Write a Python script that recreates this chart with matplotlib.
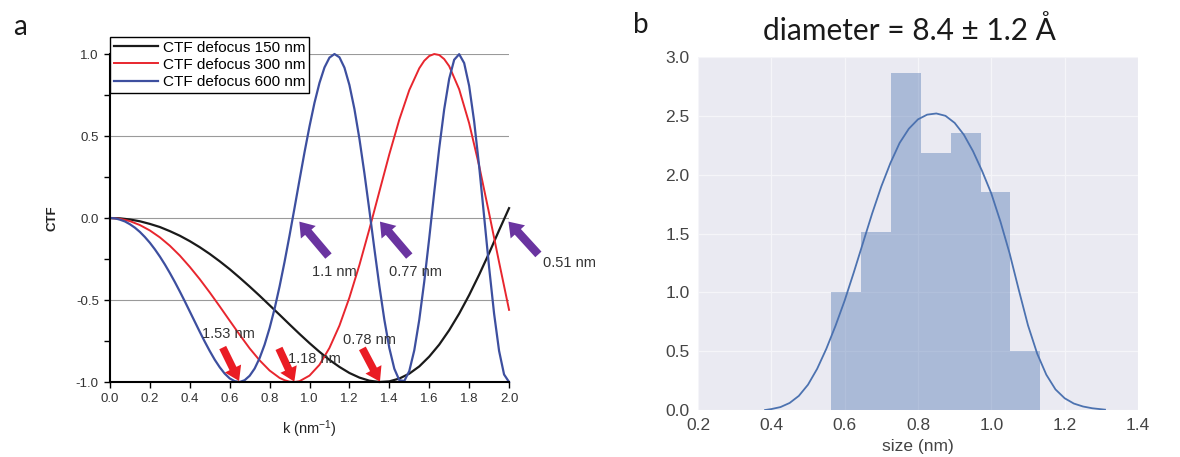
import numpy as np
import matplotlib
matplotlib.use('Agg')
import matplotlib.pyplot as plt

plt.rcParams['font.family'] = ['Liberation Sans', 'DejaVu Sans']
plt.rcParams['mathtext.default'] = 'regular'
plt.rcParams['axes.unicode_minus'] = False

# ---- panel a: CTF curves ----
k_150 = [0.00, 0.05, 0.10, 0.15, 0.20, 0.25, 0.30, 0.35, 0.40, 0.45,
         0.50, 0.55, 0.60, 0.65, 0.70, 0.75, 0.80, 0.85, 0.90, 0.95,
         1.00, 1.05, 1.10, 1.15, 1.20, 1.25, 1.30, 1.35, 1.40, 1.45,
         1.50, 1.55, 1.60, 1.65, 1.70, 1.75, 1.80, 1.85, 1.90, 1.95, 2.00]
ctf_150 = [0.000, -0.002, -0.009, -0.020, -0.036, -0.055, -0.080, -0.108, -0.141, -0.178,
           -0.219, -0.264, -0.312, -0.364, -0.418, -0.474, -0.532, -0.590, -0.649, -0.707,
           -0.763, -0.816, -0.865, -0.908, -0.945, -0.973, -0.992, -1.000, -0.996, -0.979,
           -0.949, -0.905, -0.845, -0.772, -0.684, -0.583, -0.470, -0.346, -0.214, -0.075, 0.060]

k_300 = [0.00, 0.05, 0.10, 0.15, 0.20, 0.25, 0.30, 0.35, 0.40, 0.45,
         0.50, 0.55, 0.60, 0.65, 0.70, 0.75, 0.80, 0.85, 0.875, 0.90, 0.925, 0.95,
         1.00, 1.05, 1.10, 1.15, 1.20, 1.25, 1.30, 1.35, 1.40, 1.45,
         1.50, 1.55, 1.575, 1.60, 1.625, 1.65, 1.675, 1.70, 1.75, 1.80, 1.85, 1.90, 1.95, 2.00]
ctf_300 = [0.000, -0.005, -0.019, -0.043, -0.076, -0.118, -0.169, -0.229, -0.298, -0.373,
           -0.454, -0.539, -0.626, -0.712, -0.795, -0.868, -0.930, -0.975, -0.989, -0.998, -1.000, -0.995,
           -0.961, -0.895, -0.792, -0.656, -0.485, -0.287, -0.068, 0.161, 0.389, 0.600,
           0.780, 0.913, 0.959, 0.988, 1.000, 0.994, 0.969, 0.926, 0.785, 0.578, 0.319, 0.029, -0.269, -0.560]

k_600 = [0.000, 0.025, 0.050, 0.075, 0.100, 0.125, 0.150, 0.175, 0.200, 0.225,
         0.250, 0.275, 0.300, 0.325, 0.350, 0.375, 0.400, 0.425, 0.450, 0.475,
         0.500, 0.525, 0.550, 0.575, 0.600, 0.625, 0.650, 0.675, 0.700, 0.725,
         0.750, 0.775, 0.800, 0.825, 0.850, 0.875, 0.900, 0.925, 0.950, 0.975,
         1.000, 1.025, 1.050, 1.075, 1.100, 1.125, 1.150, 1.175, 1.200, 1.225,
         1.250, 1.275, 1.300, 1.325, 1.350, 1.375, 1.400, 1.425, 1.450, 1.475,
         1.500, 1.525, 1.550, 1.575, 1.600, 1.625, 1.650, 1.675, 1.700, 1.725,
         1.750, 1.775, 1.800, 1.825, 1.850, 1.875, 1.900, 1.925, 1.950, 1.975, 2.000]
ctf_600 = [0.000, -0.002, -0.010, -0.021, -0.038, -0.059, -0.085, -0.116, -0.151, -0.191,
           -0.235, -0.283, -0.335, -0.390, -0.448, -0.508, -0.570, -0.632, -0.694, -0.754,
           -0.811, -0.864, -0.910, -0.949, -0.978, -0.995, -1.000, -0.989, -0.962, -0.918,
           -0.854, -0.772, -0.671, -0.553, -0.417, -0.267, -0.106, 0.062, 0.233, 0.401,
           0.559, 0.703, 0.824, 0.918, 0.978, 1.000, 0.980, 0.917, 0.811, 0.665,
           0.484, 0.274, 0.047, -0.187, -0.414, -0.620, -0.793, -0.919, -0.989, -0.994,
           -0.933, -0.807, -0.621, -0.388, -0.123, 0.156, 0.425, 0.663, 0.849, 0.965,
           0.999, 0.945, 0.806, 0.590, 0.317, 0.010, -0.300, -0.583, -0.810, -0.954, -1.000]

series_labels = ['CTF defocus 150 nm', 'CTF defocus 300 nm', 'CTF defocus 600 nm']

# arrows: (tail k, tail ctf, head k, head ctf)
red_arrows = [(0.565, -0.79, 0.647, -0.994),
              (0.847, -0.795, 0.924, -0.998),
              (1.265, -0.795, 1.353, -0.998)]
red_texts = [('1.53 nm', 0.461, -0.707), ('1.18 nm', 0.892, -0.86), ('0.78 nm', 1.168, -0.744)]

purple_arrows = [(1.095, -0.232, 0.949, -0.022),
                 (1.50, -0.232, 1.353, -0.022),
                 (2.147, -0.222, 1.997, -0.022)]
purple_texts = [('1.1 nm', 1.013, -0.329), ('0.77 nm', 1.398, -0.329), ('0.51 nm', 2.17, -0.274)]

# ---- panel b: size histogram (density) and smooth estimate ----
bin_edges = [0.563, 0.6445, 0.726, 0.8075, 0.889, 0.9705, 1.052, 1.1335]
bin_height = [1.0, 1.51, 2.86, 2.18, 2.35, 1.85, 0.5]

kde_x = [0.383, 0.400, 0.425, 0.450, 0.475, 0.500, 0.525, 0.550, 0.575, 0.600,
         0.625, 0.650, 0.675, 0.700, 0.725, 0.750, 0.775, 0.800, 0.825, 0.850,
         0.875, 0.900, 0.925, 0.950, 0.975, 1.000, 1.025, 1.050, 1.075, 1.100,
         1.125, 1.150, 1.175, 1.200, 1.225, 1.250, 1.275, 1.310]
kde_y = [0.000, 0.008, 0.025, 0.060, 0.120, 0.215, 0.350, 0.520, 0.715, 0.930,
         1.170, 1.420, 1.670, 1.900, 2.100, 2.270, 2.390, 2.470, 2.510, 2.520,
         2.500, 2.440, 2.340, 2.200, 2.030, 1.840, 1.600, 1.330, 1.020, 0.720,
         0.480, 0.300, 0.175, 0.100, 0.055, 0.030, 0.015, 0.003]

fig = plt.figure(figsize=(11.8, 4.57), dpi=100)
ax1 = fig.add_axes([0.0932, 0.1641, 0.3382, 0.7177])
ax2 = fig.add_axes([0.5915, 0.1028, 0.3729, 0.7725])

# panel a
ax1.plot(k_150, ctf_150, color='#1a1a1a', lw=1.6, label=series_labels[0], clip_on=False, zorder=3)
ax1.plot(k_300, ctf_300, color='#e8262e', lw=1.4, label=series_labels[1], clip_on=False, zorder=3)
ax1.plot(k_600, ctf_600, color='#3d4f9f', lw=1.6, label=series_labels[2], clip_on=False, zorder=3)

ax1.set_xlim(0, 2.0)
ax1.set_ylim(-1, 1)
ax1.set_xticks(np.round(np.arange(0, 2.01, 0.2), 1))
ax1.set_yticks([-1.0, -0.5, 0.0, 0.5, 1.0])
ax1.set_yticks([-0.75, -0.25, 0.25, 0.75], minor=True)
for s in ['top', 'right']:
    ax1.spines[s].set_visible(False)
for s in ['left', 'bottom']:
    ax1.spines[s].set_linewidth(1.5)
    ax1.spines[s].set_zorder(4)
ax1.tick_params(which='both', direction='out', length=4, width=1, labelsize=9.5,
                labelcolor='#333333', pad=4)
ax1.grid(True, which='major', color='#9a9a9a', lw=0.8)
ax1.set_axisbelow(True)
for t in ax1.xaxis.get_major_ticks():
    if t.get_loc() in (0.0, 2.0):
        t.gridline.set_visible(False)
for t in ax1.yaxis.get_major_ticks():
    if t.get_loc() in (-1.0, 1.0):
        t.gridline.set_visible(False)

ax1.set_ylabel('CTF', fontsize=9.5, fontweight='bold', color='#222222')
ax1.yaxis.set_label_coords(-0.13, 0.5)
ax1.set_xlabel('k (nm$^{-1}$)', fontsize=10.5, color='#222222')
ax1.xaxis.set_label_coords(0.5, -0.11)

leg = ax1.legend(loc='upper left', bbox_to_anchor=(0, 1.052), fancybox=False, edgecolor='black',
                 framealpha=1, fontsize=11, handlelength=2.9, borderpad=0.25, labelspacing=0.2,
                 handletextpad=0.3, borderaxespad=0)
leg.get_frame().set_linewidth(1.0)
leg.set_zorder(5)

for x0, y0, x1, y1 in red_arrows:
    ax1.annotate('', xy=(x1, y1), xytext=(x0, y0), annotation_clip=False,
                 arrowprops=dict(facecolor='#ea1c24', edgecolor='none', width=5.5, headwidth=13, headlength=10))
for x0, y0, x1, y1 in purple_arrows:
    ax1.annotate('', xy=(x1, y1), xytext=(x0, y0), annotation_clip=False,
                 arrowprops=dict(facecolor='#6a34a0', edgecolor='none', width=6, headwidth=14, headlength=10))
for txt, x, y in red_texts + purple_texts:
    ax1.text(x, y, txt, fontsize=10.5, color='#333333', ha='left', va='center', clip_on=False, zorder=6)

# panel b
ax2.set_facecolor('#EAEAF2')
for s in ax2.spines.values():
    s.set_visible(False)
ax2.grid(True, color='#f5f5f9', lw=0.9)
ax2.set_axisbelow(True)
ax2.stairs(bin_height, bin_edges, fill=True, color='#4C72B0', alpha=0.4, lw=0)
ax2.plot(kde_x, kde_y, color='#4C72B0', lw=1.3)
ax2.set_xlim(0.2, 1.4)
ax2.set_ylim(0, 3.0)
ax2.set_xticks(np.round(np.arange(0.2, 1.41, 0.2), 1))
ax2.set_yticks(np.round(np.arange(0, 3.01, 0.5), 1))
ax2.tick_params(length=0, labelsize=12.5, labelcolor='#444444', pad=6)
ax2.set_xlabel('size (nm)', fontsize=12.5, color='#444444')
ax2.xaxis.set_label_coords(0.5, -0.082)

fig.text(0.771, 0.934, 'diameter = 8.4 ± 1.2 Å', fontsize=21.5, family=['Lato', 'DejaVu Sans'],
         ha='center', va='center', color='#1a1a1a')
fig.text(0.017, 0.94, 'a', fontsize=20, family=['Lato', 'DejaVu Sans'], ha='center', va='center', color='#1a1a1a')
fig.text(0.543, 0.945, 'b', fontsize=20, family=['Lato', 'DejaVu Sans'], ha='center', va='center', color='#1a1a1a')

fig.savefig('out.png', dpi=100, facecolor='white')
